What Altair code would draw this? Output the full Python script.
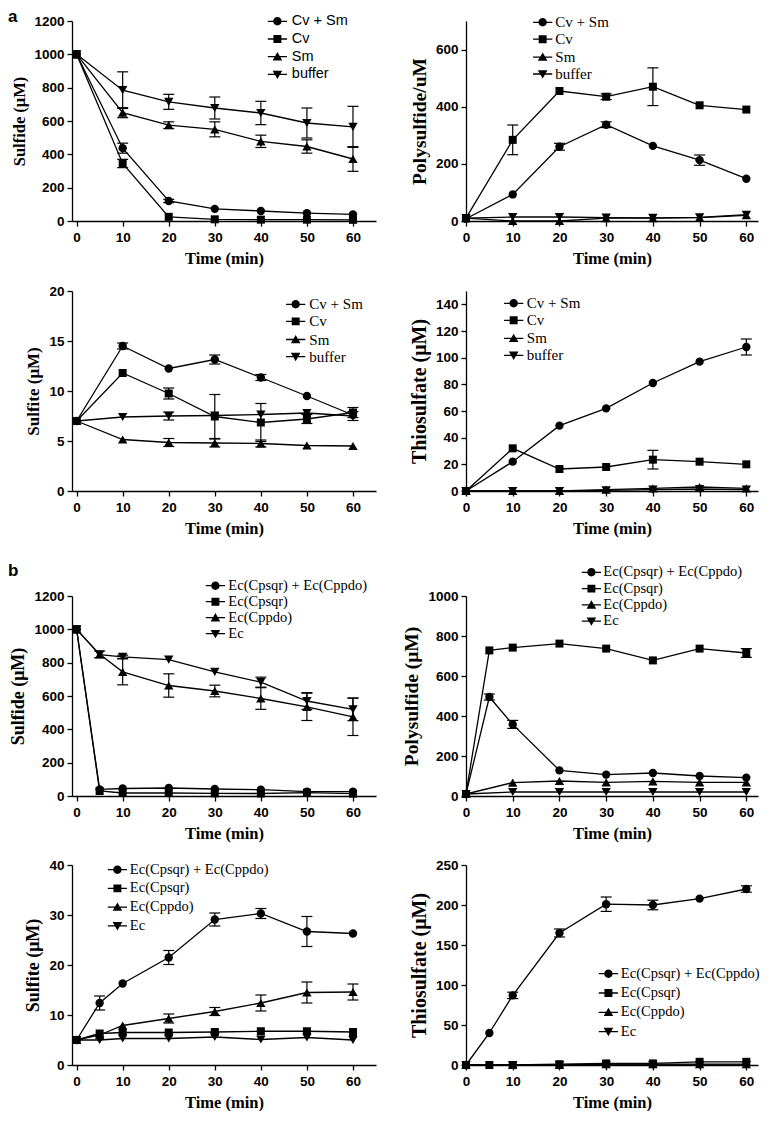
import altair as alt
import pandas as pd

# ---------------- data ----------------
TIME_A = [0, 10, 20, 30, 40, 50, 60]
TIME_B = [0, 5, 10, 20, 30, 40, 50, 60]
X_TICKS = [0, 10, 20, 30, 40, 50, 60]
NAMES_A = ["Cv + Sm", "Cv", "Sm", "buffer"]
NAMES_B = ["Ec(Cpsqr) + Ec(Cppdo)", "Ec(Cpsqr)", "Ec(Cppdo)", "Ec"]

# a: sulfide
A1_CVSM = [1000, 437, 120, 73, 60, 47, 40]
A1_CV = [1000, 345, 25, 10, 8, 8, 7]
A1_SM = [1000, 650, 575, 550, 478, 447, 372]
A1_BUF = [1000, 785, 715, 678, 648, 588, 565]
A1_CVSM_E = [0, 30, 10, 0, 0, 0, 0]
A1_CV_E = [0, 25, 0, 0, 0, 0, 0]
A1_SM_E = [0, 30, 20, 45, 37, 40, 74]
A1_BUF_E = [0, 110, 45, 66, 70, 90, 123]

# a: polysulfide
A2_CVSM = [8, 93, 260, 337, 263, 213, 148]
A2_CV = [10, 284, 455, 435, 470, 405, 390]
A2_SM = [10, 0, 0, 10, 10, 12, 20]
A2_BUF = [10, 14, 14, 12, 11, 13, 22]
A2_CVSM_E = [0, 0, 12, 10, 0, 18, 0]
A2_CV_E = [0, 52, 0, 10, 66, 0, 0]
A2_SM_E = [0, 0, 0, 0, 0, 0, 0]
A2_BUF_E = [0, 0, 0, 0, 0, 0, 0]

# a: sulfite
A3_CVSM = [7, 14.5, 12.25, 13.15, 11.35, 9.5, 7.6]
A3_CV = [7, 11.8, 9.75, 7.45, 6.85, 7.2, 7.85]
A3_SM = [7, 5.15, 4.85, 4.8, 4.75, 4.55, 4.5]
A3_BUF = [7, 7.4, 7.5, 7.55, 7.65, 7.8, 7.5]
A3_CVSM_E = [0, 0.3, 0, 0.45, 0.3, 0, 0]
A3_CV_E = [0, 0, 0.55, 2.2, 1.9, 0.45, 0.5]
A3_SM_E = [0, 0, 0.4, 0.4, 0.35, 0, 0]
A3_BUF_E = [0, 0, 0.4, 0, 0, 0, 0.45]

# a: thiosulfate
A4_CVSM = [0, 22, 49, 62, 81, 97, 108]
A4_CV = [0, 32, 16.5, 18, 23.5, 22, 20]
A4_SM = [0, 0, 0, 1, 2, 3, 2]
A4_BUF = [0, 0, 0, 0.5, 1, 1.5, 1]
A4_CVSM_E = [0, 0, 0, 0, 0, 0, 6]
A4_CV_E = [0, 0, 0, 0, 7, 0, 0]
A4_SM_E = [0, 0, 0, 0, 0, 0, 0]
A4_BUF_E = [0, 0, 0, 0, 0, 0, 0]

# b: sulfide
B1_MIX = [1000, 40, 45, 48, 42, 38, 26, 26]
B1_SQR = [1000, 30, 18, 18, 16, 15, 20, 14]
B1_PDO = [1000, 850, 745, 663, 630, 585, 535, 475]
B1_EC = [1000, 848, 835, 818, 745, 683, 570, 520]
B1_MIX_E = [0, 0, 0, 0, 0, 0, 0, 0]
B1_SQR_E = [0, 0, 0, 0, 0, 0, 0, 0]
B1_PDO_E = [0, 20, 78, 70, 35, 65, 82, 112]
B1_EC_E = [0, 0, 10, 0, 0, 30, 50, 68]

# b: polysulfide
B2_MIX = [10, 495, 358, 128, 107, 115, 100, 92]
B2_SQR = [10, 728, 742, 762, 737, 678, 737, 715]
B2_PDO = [10, None, 67, 75, 68, 73, 68, 68]
B2_EC = [10, None, 20, 20, 20, 20, 20, 20]
B2_MIX_E = [0, 15, 20, 0, 0, 0, 0, 0]
B2_SQR_E = [0, 0, 0, 0, 0, 0, 0, 22]
B2_PDO_E = [0, 0, 0, 0, 0, 0, 0, 0]
B2_EC_E = [0, 0, 0, 0, 0, 0, 0, 0]

# b: sulfite
B3_MIX = [5, 12.4, 16.3, 21.5, 29.1, 30.3, 26.7, 26.3]
B3_SQR = [5, 6.3, 6.5, 6.5, 6.6, 6.75, 6.75, 6.6]
B3_PDO = [5, 6.0, 7.9, 9.3, 10.7, 12.4, 14.5, 14.6]
B3_EC = [5, 5.0, 5.3, 5.3, 5.6, 5.1, 5.5, 5.0]
B3_MIX_E = [0, 1.4, 0, 1.4, 1.3, 1.0, 3.0, 0]
B3_SQR_E = [0, 0, 0, 0, 0, 0, 0, 0]
B3_PDO_E = [0, 0, 0, 0.9, 0.8, 1.6, 2.1, 1.6]
B3_EC_E = [0, 0, 0, 0, 0, 0, 0, 0]

# b: thiosulfate
B4_MIX = [0, 40, 87, 165, 201, 200, 208, 220]
B4_SQR = [0, 0, 0, 1, 2, 2, 4, 4]
B4_PDO = [0, None, 0, 0, 1, 1, 1, 1]
B4_EC = [0, None, 0, 0, 0, 0, 0, 0]
B4_MIX_E = [0, 0, 4, 5, 9, 6, 0, 4]
B4_SQR_E = [0, 0, 0, 0, 0, 0, 0, 0]
B4_PDO_E = [0, 0, 0, 0, 0, 0, 0, 0]
B4_EC_E = [0, 0, 0, 0, 0, 0, 0, 0]

# ---------------- styling ----------------
SANS = "Liberation Sans"
SERIF = "Liberation Serif"
SHAPES = ["circle", "square", "triangle-up", "triangle-down"]
SIZES = [70, 64, 88, 88]
LEG_SIZE = 70
STUB = "M-2.3,-0.16H2.3V0.16H-2.3Z"
LEG_PATHS = [
    STUB + "M1,0A1,1,0,1,1,-1,0A1,1,0,1,1,1,0Z",
    STUB + "M-0.95,-0.95H0.95V0.95H-0.95Z",
    STUB + "M0,-1.1L1.15,0.9H-1.15Z",
    STUB + "M0,1.1L-1.15,-0.9H1.15Z",
]
PH = 200
LW, RW = 304, 292
LDOM, RDOM = [-1, 65], [0, 62.5]


def panel(times, vals, errs, names, ymax, yticks, ytitle, ytfs, xdom, width,
          leg, leg_font, leg_fs, tag=None, tag_y=0, anchor_y=None):
    recs = []
    for name, vs, es in zip(names, vals, errs):
        for t, v, e in zip(times, vs, es):
            if v is None:
                continue
            recs.append({"t": t, "v": v, "s": name, "e": e, "lo": v - e, "hi": v + e})
    df = pd.DataFrame(recs)
    xs = alt.Scale(domain=xdom, nice=False, zero=False)
    ys = alt.Scale(domain=[0, ymax], nice=False)
    xax = alt.Axis(values=X_TICKS, title="Time (min)", grid=False, tickSize=5, format="d",
                   tickWidth=1.3, tickColor="black", domainColor="black", domainWidth=1.3,
                   labelFont=SANS, labelFontWeight="bold", labelFontSize=13.5,
                   labelColor="black", labelPadding=4, labelFlush=False, labelOverlap=False,
                   titleFont=SERIF, titleFontWeight="bold", titleFontSize=16.5,
                   titleColor="black", titlePadding=7)
    yax = alt.Axis(values=yticks, title=ytitle, grid=False, tickSize=5, format="d",
                   tickWidth=1.3, tickColor="black", domainColor="black", domainWidth=1.3,
                   labelFont=SANS, labelFontWeight="bold", labelFontSize=13.5,
                   labelColor="black", labelPadding=3, labelFlush=False, labelOverlap=False,
                   titleFont=SERIF, titleFontWeight="bold", titleFontSize=ytfs,
                   titleColor="black", titlePadding=6)
    X = alt.X("t:Q", scale=xs, axis=xax)

    def Y(f):
        return alt.Y(f, scale=ys, axis=yax)

    base = alt.Chart(df)
    errb = base.transform_filter("datum.e > 0")
    rules = errb.mark_rule(color="black", strokeWidth=1.2).encode(x=X, y=Y("lo:Q"), y2="hi:Q")
    cap_lo = errb.mark_tick(orient="horizontal", size=11, thickness=1.2, color="black",
                            opacity=1).encode(x=X, y=Y("lo:Q"))
    cap_hi = errb.mark_tick(orient="horizontal", size=11, thickness=1.2, color="black",
                            opacity=1).encode(x=X, y=Y("hi:Q"))
    lines = base.mark_line(color="black", strokeWidth=1.3).encode(
        x=X, y=Y("v:Q"), detail="s:N")
    pts = [
        base.transform_filter(alt.datum.s == nm).mark_point(
            filled=True, color="black", opacity=1, shape=shp, size=sz
        ).encode(x=X, y=Y("v:Q"))
        for nm, shp, sz in zip(names, SHAPES, SIZES)
    ]
    sx, sy, lx, dy = leg
    rc = (LEG_SIZE ** 0.5 + 1.3) / 2
    lg = base.transform_filter("datum.t < -100").mark_point(
        filled=True, color="black", size=LEG_SIZE, opacity=1
    ).encode(
        x=X, y=Y("v:Q"),
        shape=alt.Shape("s:N", scale=alt.Scale(domain=names, range=LEG_PATHS),
                        legend=alt.Legend(title=None, orient="none",
                                          legendX=sx - rc, legendY=sy - leg_fs / 2,
                                          padding=0, labelFont=leg_font, labelFontSize=leg_fs,
                                          labelColor="black", labelOffset=lx - sx - rc,
                                          rowPadding=dy - leg_fs, symbolSize=LEG_SIZE,
                                          symbolFillColor="black", symbolOpacity=1,
                                          labelLimit=400)),
    )
    layers = [rules, cap_lo, cap_hi, lines] + pts + [lg]
    if tag is not None:
        layers.append(alt.Chart(pd.DataFrame({"k": [tag]})).mark_text(
            align="left", baseline="alphabetic", font=SANS, fontWeight="bold",
            fontSize=17, color="black").encode(
            x=alt.value(-64), y=alt.value(tag_y), text="k:N"))
    if anchor_y is not None:
        layers.append(alt.Chart(pd.DataFrame({"k": ["a"]})).mark_text(
            align="left", baseline="top", font=SANS, fontSize=10, opacity=0).encode(
            x=alt.value(-64), y=alt.value(anchor_y), text="k:N"))
    return alt.layer(*layers).resolve_scale(shape="independent").resolve_legend(
        shape="independent").properties(width=width, height=PH)


p1 = panel(TIME_A, [A1_CVSM, A1_CV, A1_SM, A1_BUF], [A1_CVSM_E, A1_CV_E, A1_SM_E, A1_BUF_E],
           NAMES_A, 1200, [0, 200, 400, 600, 800, 1000, 1200], "Sulfide (\u03bcM)", 16.5,
           LDOM, LW, (203, 0.3, 215, 16.2), SANS, 14.5, tag="a", tag_y=1)
p2 = panel(TIME_A, [A2_CVSM, A2_CV, A2_SM, A2_BUF], [A2_CVSM_E, A2_CV_E, A2_SM_E, A2_BUF_E],
           NAMES_A, 700, [0, 200, 400, 600], "Polysulfide/uM", 19.5,
           RDOM, RW, (74, 1.3, 84, 15.9), SERIF, 15)
p3 = panel(TIME_A, [A3_CVSM, A3_CV, A3_SM, A3_BUF], [A3_CVSM_E, A3_CV_E, A3_SM_E, A3_BUF_E],
           NAMES_A, 20, [0, 5, 10, 15, 20], "Sulfite (\u03bcM)", 17,
           LDOM, LW, (221, 13.3, 232, 16.1), SERIF, 15, anchor_y=-13.5)
p4 = panel(TIME_A, [A4_CVSM, A4_CV, A4_SM, A4_BUF], [A4_CVSM_E, A4_CV_E, A4_SM_E, A4_BUF_E],
           NAMES_A, 150, [0, 20, 40, 60, 80, 100, 120, 140], "Thiosulfate (\u03bcM)", 20,
           RDOM, RW, (45, 12.3, 55.5, 16.0), SERIF, 15)
p5 = panel(TIME_B, [B1_MIX, B1_SQR, B1_PDO, B1_EC], [B1_MIX_E, B1_SQR_E, B1_PDO_E, B1_EC_E],
           NAMES_B, 1200, [0, 200, 400, 600, 800, 1000, 1200], "Sulfide (\u03bcM)", 18,
           LDOM, LW, (141, -10.3, 151.5, 14.5), SERIF, 14.5, tag="b", tag_y=-20, anchor_y=-48.5)
p6 = panel(TIME_B, [B2_MIX, B2_SQR, B2_PDO, B2_EC], [B2_MIX_E, B2_SQR_E, B2_PDO_E, B2_EC_E],
           NAMES_B, 1000, [0, 200, 400, 600, 800, 1000], "Polysulfide (\u03bcM)", 19.5,
           RDOM, RW, (123, -23.7, 132.5, 14.8), SERIF, 14.5)
p7 = panel(TIME_B, [B3_MIX, B3_SQR, B3_PDO, B3_EC], [B3_MIX_E, B3_SQR_E, B3_PDO_E, B3_EC_E],
           NAMES_B, 40, [0, 10, 20, 30, 40], "Sulfite (\u03bcM)", 18,
           LDOM, LW, (43, 4.7, 53, 17.2), SERIF, 14.5, anchor_y=-12.5)
p8 = panel(TIME_B, [B4_MIX, B4_SQR, B4_PDO, B4_EC], [B4_MIX_E, B4_SQR_E, B4_PDO_E, B4_EC_E],
           NAMES_B, 250, [0, 50, 100, 150, 200, 250], "Thiosulfate (\u03bcM)", 20,
           RDOM, RW, (140, 108.7, 150, 17.8), SERIF, 14.5)

rows = [alt.hconcat(a, b, spacing=90, bounds="flush").resolve_scale(
            shape="independent").resolve_legend(shape="independent")
        for a, b in [(p1, p2), (p3, p4), (p5, p6), (p7, p8)]]
chart = alt.vconcat(*rows, spacing=10).resolve_scale(shape="independent").resolve_legend(
    shape="independent").properties(padding=0).configure_view(stroke=None)

chart.save("out.html", embed_options={"renderer": "svg", "actions": False})
